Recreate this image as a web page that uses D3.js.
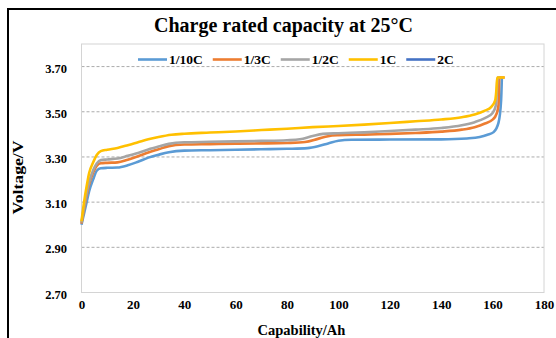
<!DOCTYPE html>
<html>
<head>
<meta charset="utf-8">
<script src="https://cdn.jsdelivr.net/npm/d3@7"></script>
<style>
  html, body { margin: 0; padding: 0; background: #fff; }
  svg { display: block; }
  svg text { font-family: "Liberation Serif", Tinos, "Times New Roman", "DejaVu Serif", serif; font-weight: 700; fill: #000; }
</style>
</head>
<body>
<svg id="chart" width="556" height="338"></svg>
<script>
// Charge curves: capacity (Ah) vs voltage (V) for each charge rate
const seriesNames = ["1/10C", "1/3C", "1/2C", "1C", "2C"];
const seriesColors = ["#5B9BD5", "#ED7D31", "#A5A5A5", "#FFC000", "#4472C4"];

const cap_1_10C = [0, 1, 2, 3, 4.5, 6, 7.5, 10, 14, 18, 22, 26, 30, 34, 40, 50, 60, 70, 80, 88, 92, 96, 100, 105, 120, 140, 150, 155, 158, 160.4, 162.3, 163.3, 163.6];
const volt_1_10C = [3.00, 3.05, 3.10, 3.15, 3.20, 3.24, 3.250, 3.252, 3.253, 3.263, 3.279, 3.297, 3.310, 3.321, 3.328, 3.330, 3.332, 3.334, 3.336, 3.339, 3.347, 3.360, 3.372, 3.376, 3.377, 3.378, 3.382, 3.388, 3.398, 3.410, 3.452, 3.550, 3.652];

const cap_1_3C = [0, 1, 2, 3, 4.5, 6, 7.5, 10, 14, 18, 22, 26, 30, 34, 40, 50, 60, 70, 80, 87, 92, 96, 100, 110, 120, 130, 140, 148, 153, 157, 160, 161.5, 162.3, 162.6, 164.7];
const volt_1_3C = [3.005, 3.07, 3.13, 3.18, 3.23, 3.262, 3.272, 3.274, 3.276, 3.288, 3.303, 3.320, 3.334, 3.348, 3.355, 3.357, 3.359, 3.360, 3.362, 3.366, 3.380, 3.392, 3.396, 3.399, 3.402, 3.406, 3.412, 3.421, 3.432, 3.448, 3.465, 3.490, 3.530, 3.652, 3.652];

const cap_1_2C = [0, 1, 2, 3, 4.5, 6, 7.5, 10, 14, 18, 22, 26, 30, 34, 40, 50, 60, 70, 80, 85, 90, 94, 100, 110, 120, 130, 140, 148, 153, 157, 160, 161.3, 162, 163];
const volt_1_2C = [3.01, 3.08, 3.14, 3.19, 3.24, 3.272, 3.286, 3.289, 3.293, 3.305, 3.318, 3.333, 3.346, 3.358, 3.365, 3.367, 3.369, 3.371, 3.374, 3.378, 3.393, 3.402, 3.405, 3.409, 3.415, 3.421, 3.428, 3.440, 3.454, 3.472, 3.495, 3.530, 3.652, 3.652];

const cap_1C = [0, 1, 2, 3, 4.5, 6, 7.5, 10, 14, 18, 22, 26, 30, 35, 40, 50, 60, 70, 80, 90, 100, 110, 120, 130, 140, 148, 153, 157, 159.5, 161, 161.5, 161.8, 164.7];
const volt_1C = [3.015, 3.10, 3.17, 3.23, 3.275, 3.31, 3.326, 3.332, 3.340, 3.352, 3.365, 3.378, 3.388, 3.398, 3.403, 3.408, 3.413, 3.419, 3.425, 3.432, 3.437, 3.443, 3.450, 3.458, 3.466, 3.476, 3.488, 3.505, 3.522, 3.550, 3.600, 3.652, 3.652];

// 2C appears in the legend only
const cap_2C = [];
const volt_2C = [];

const xTicks = [0, 20, 40, 60, 80, 100, 120, 140, 160, 180];
const yTicks = [2.7, 2.9, 3.1, 3.3, 3.5, 3.7];

const series = [
  { name: seriesNames[0], color: seriesColors[0], cap: cap_1_10C, volt: volt_1_10C },
  { name: seriesNames[1], color: seriesColors[1], cap: cap_1_3C, volt: volt_1_3C },
  { name: seriesNames[2], color: seriesColors[2], cap: cap_1_2C, volt: volt_1_2C },
  { name: seriesNames[3], color: seriesColors[3], cap: cap_1C, volt: volt_1C },
  { name: seriesNames[4], color: seriesColors[4], cap: cap_2C, volt: volt_2C }
];

const FONT = "'Liberation Serif', Tinos, 'Times New Roman', 'DejaVu Serif', serif";

const svg = d3.select("#chart");
const plot = { left: 81.5, right: 544, top: 44, bottom: 292.5 };

const x = d3.scaleLinear().domain([0, 180]).range([plot.left, plot.right]);
const y = d3.scaleLinear().domain([2.7, 3.8]).range([plot.bottom, plot.top]);

// outer frame (left and top edges)
svg.append("path")
  .attr("d", "M8,345 L8,9 L565,9")
  .attr("fill", "none")
  .attr("stroke", "#000")
  .attr("stroke-width", 2);

// title
svg.append("text")
  .attr("x", 283.5).attr("y", 32)
  .attr("text-anchor", "middle")
  .style("font-family", FONT)
  .style("font-size", "20px")
  .text("Charge rated capacity at 25°C");

// gridlines
svg.append("g")
  .selectAll("line")
  .data(yTicks.filter(d => d > 2.7))
  .join("line")
  .attr("x1", plot.left).attr("x2", plot.right)
  .attr("y1", d => y(d)).attr("y2", d => y(d))
  .attr("stroke", "#ababab")
  .attr("stroke-width", 1)
  .attr("stroke-dasharray", "3,2");

// plot area border
svg.append("rect")
  .attr("x", plot.left).attr("y", plot.top)
  .attr("width", plot.right - plot.left)
  .attr("height", plot.bottom - plot.top)
  .attr("fill", "none")
  .attr("stroke", "#d4d4d4")
  .attr("stroke-width", 1);

// axes
const xAxis = svg.append("g")
  .attr("transform", `translate(0,${plot.bottom})`)
  .call(d3.axisBottom(x).tickValues(xTicks).tickSize(0).tickPadding(0).tickFormat(d3.format("d")))
  .attr("font-family", null).attr("font-size", null);
xAxis.select(".domain").remove();
xAxis.selectAll("text")
  .attr("y", 16.5).attr("dy", null)
  .style("font-size", "13px")
  .style("font-family", FONT)
  .style("font-weight", "bold");

const yAxis = svg.append("g")
  .attr("transform", `translate(67,0)`)
  .call(d3.axisLeft(y).tickValues(yTicks).tickSize(0).tickPadding(0).tickFormat(d3.format(".2f")))
  .attr("font-family", null).attr("font-size", null);
yAxis.select(".domain").remove();
yAxis.selectAll("text")
  .attr("dy", "0.45em")
  .style("font-size", "12.5px")
  .style("font-family", FONT)
  .style("font-weight", "bold");

// axis titles
svg.append("text")
  .attr("x", 301.5).attr("y", 335)
  .attr("text-anchor", "middle")
  .style("font-family", FONT)
  .style("font-size", "14.5px")
  .text("Capability/Ah");

svg.append("text")
  .attr("transform", "translate(23,177.5) rotate(-90)")
  .attr("text-anchor", "middle")
  .attr("textLength", 74)
  .attr("lengthAdjust", "spacingAndGlyphs")
  .style("font-family", FONT)
  .style("font-size", "14.5px")
  .text("Voltage/V");

// curves
const line = d3.line()
  .x(d => x(d[0]))
  .y(d => y(d[1]))
  .curve(d3.curveMonotoneX);

svg.append("g")
  .selectAll("path")
  .data(series.filter(s => s.cap.length))
  .join("path")
  .attr("d", s => line(s.cap.map((c, i) => [c, s.volt[i]])))
  .attr("fill", "none")
  .attr("stroke", s => s.color)
  .attr("stroke-width", 2.6)
  .attr("stroke-linejoin", "round")
  .attr("stroke-linecap", "butt");

// legend
const legend = svg.append("g");
let lx = 138;
const ly = 59.5;
series.forEach(s => {
  legend.append("line")
    .attr("x1", lx).attr("x2", lx + 29)
    .attr("y1", ly).attr("y2", ly)
    .attr("stroke", s.color)
    .attr("stroke-width", 2.6);
  const t = legend.append("text")
    .attr("x", lx + 31).attr("y", ly + 4.7)
    .style("font-family", FONT)
    .style("font-size", "13.5px")
    .text(s.name);
  lx += 31 + t.node().getComputedTextLength() + 10;
});
</script>
</body>
</html>
